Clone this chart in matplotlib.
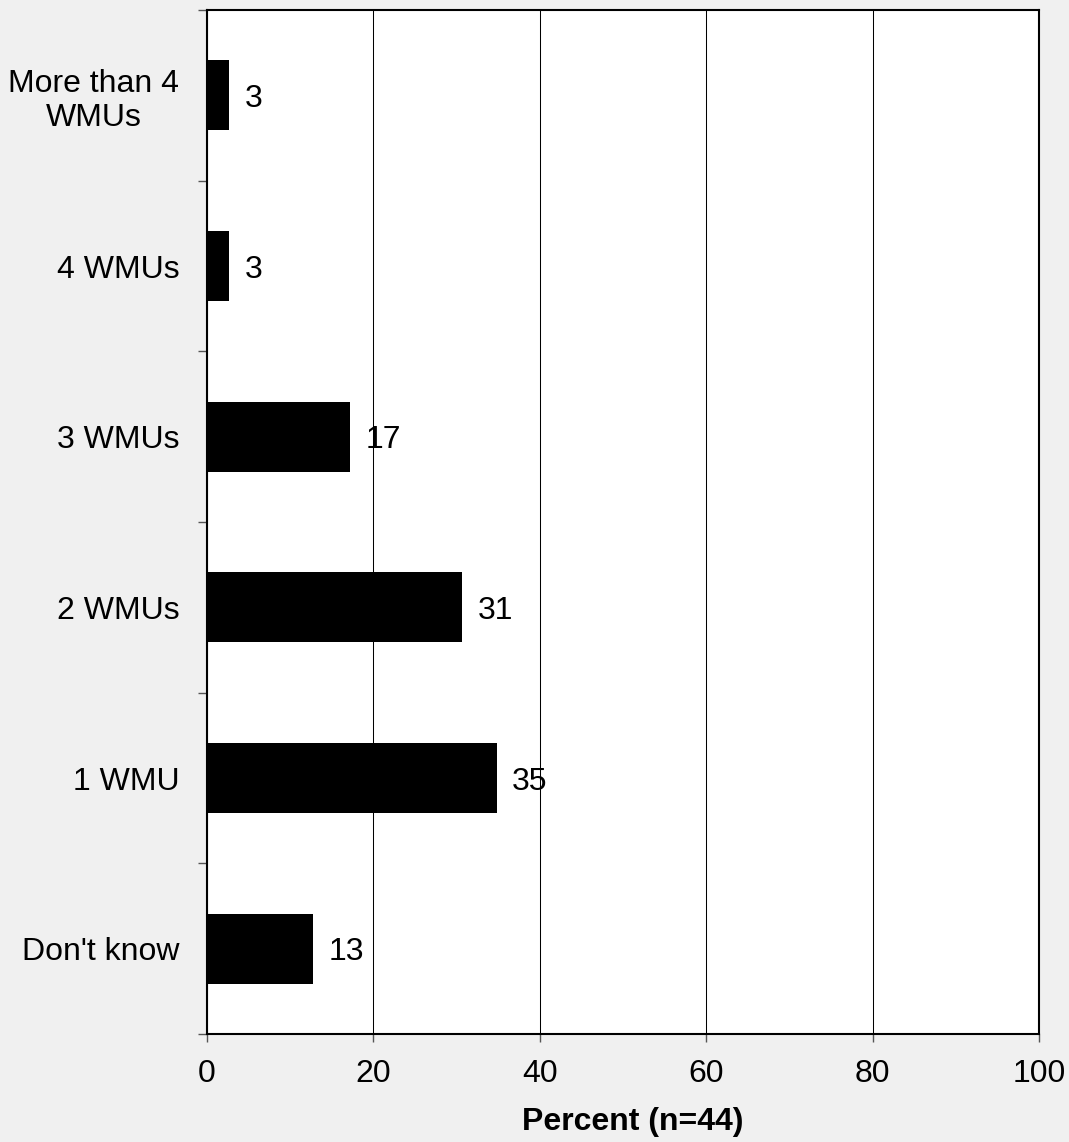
import numpy as np
import matplotlib
matplotlib.use("Agg")
import matplotlib.pyplot as plt

# Survey data (bottom to top)
categories = ["Don't know", "1 WMU", "2 WMUs", "3 WMUs", "4 WMUs", "More than 4\nWMUs"]
percents = [12.8, 34.8, 30.7, 17.2, 2.7, 2.7]
value_labels = ["13", "35", "31", "17", "3", "3"]

plt.rcParams['font.family'] = ['Liberation Sans', 'DejaVu Sans']

fig = plt.figure(figsize=(10.69, 11.42), dpi=100, facecolor='#f0f0f0')
ax = fig.add_axes([207 / 1069, 1 - 1034 / 1142, 832 / 1069, 1024 / 1142])
ax.set_facecolor('white')

y = np.arange(len(categories))
ax.barh(y, percents, height=0.41, color='black', zorder=3)

# value labels just right of each bar
for yi, p, lab in zip(y, percents, value_labels):
    ax.annotate(lab, (p, yi), xytext=(11, 0), textcoords='offset points',
                va='center_baseline', ha='left', fontsize=23, zorder=4)

ax.set_xlim(0, 100)
ax.set_ylim(-0.5, len(categories) - 0.5)
ax.set_xticks(np.arange(0, 101, 20))
ax.xaxis.grid(True, color='black', linewidth=0.75, zorder=1)

# category labels at bar centres, ticks at boundaries
ax.set_yticks(y)
ax.set_yticklabels(categories, multialignment='center')
ax.set_yticks(np.arange(-0.5, len(categories)), minor=True)
ax.tick_params(axis='y', which='major', length=0, pad=20, labelsize=23)
ax.tick_params(axis='y', which='minor', length=6.5, color='#555555', width=1)
ax.tick_params(axis='x', length=6, color='#555555', width=1, pad=12, labelsize=23)

for s in ax.spines.values():
    s.set_linewidth(1.5)
    s.set_zorder(5)

ax.set_xlabel("Percent (n=44)", fontsize=23, fontweight='bold', labelpad=13)
ax.xaxis.label.set_x(0.512)

fig.savefig("out.png", dpi=100, facecolor=fig.get_facecolor())
